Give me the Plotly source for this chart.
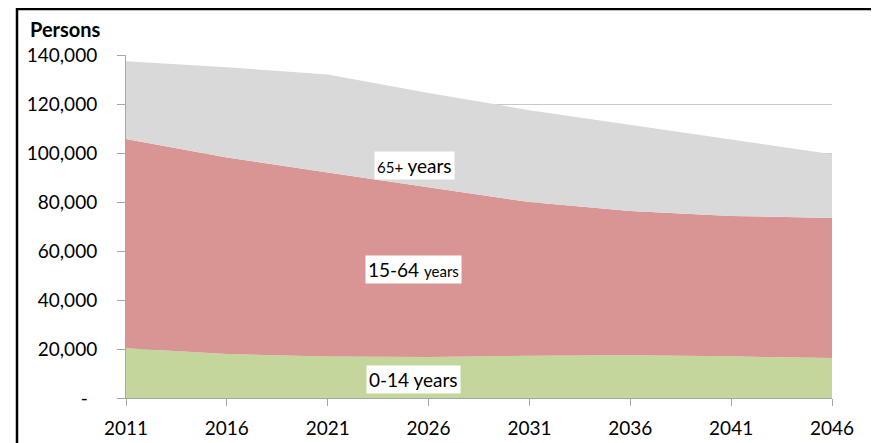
import plotly.graph_objects as go

years = [2011, 2016, 2021, 2026, 2031, 2036, 2041, 2046]
age_0_14 = [20300, 18000, 16900, 16700, 17200, 17500, 17000, 16300]
age_15_64 = [85400, 80200, 75100, 69300, 62800, 58800, 57300, 57200]
age_65_plus = [31800, 36800, 40000, 38500, 37500, 35200, 31200, 26000]

y_tickvals = [0, 20000, 40000, 60000, 80000, 100000, 120000, 140000]
y_ticktext = ["-\u2002", "20,000", "40,000", "60,000", "80,000", "100,000", "120,000", "140,000"]

FONT = "Lato"

fig = go.Figure()
fig.add_trace(go.Scatter(x=years, y=age_0_14, name="0-14 years", stackgroup="one",
                         mode="lines", line=dict(width=0), fillcolor="#c3d69b"))
fig.add_trace(go.Scatter(x=years, y=age_15_64, name="15-64 years", stackgroup="one",
                         mode="lines", line=dict(width=0), fillcolor="#d99594"))
fig.add_trace(go.Scatter(x=years, y=age_65_plus, name="65+ years", stackgroup="one",
                         mode="lines", line=dict(width=0), fillcolor="#d9d9d9"))

# page body has an 8px default margin
OFF = 8
W, H = 879 - OFF, 443 - OFF
L, R, T, B = 126 - OFF, 47, 55 - OFF, 45
pw, ph = W - L - R, H - T - B

def px_x(p):
    return (p - OFF - L) / pw

def px_y(p):
    return (H - B - (p - OFF)) / ph

fig.update_layout(
    width=W, height=H,
    margin=dict(l=L, r=R, t=T, b=B),
    paper_bgcolor="white", plot_bgcolor="white",
    showlegend=False,
    font=dict(family=FONT, size=19, color="black"),
    xaxis=dict(range=[2011, 2046], tickvals=years, ticktext=[str(y) for y in years],
               showgrid=False, zeroline=False, showline=True, linecolor="#a6a6a6",
               linewidth=1, ticks="outside", ticklen=7, tickcolor="#a6a6a6",
               ticklabelstandoff=6, automargin=False,
               tickfont=dict(family=FONT, size=19)),
    yaxis=dict(range=[0, 140000], tickvals=y_tickvals, ticktext=y_ticktext,
               showgrid=True, gridcolor="#c8c8c8", gridwidth=1, zeroline=False,
               showline=True, linecolor="#a6a6a6", linewidth=1,
               ticks="outside", ticklen=8, tickcolor="#a6a6a6",
               ticklabelstandoff=16, automargin=False,
               tickfont=dict(family=FONT, size=19)),
)

fig.add_annotation(xref="paper", yref="paper", x=px_x(28), y=px_y(29),
                   xanchor="left", yanchor="middle", showarrow=False,
                   text="<b>Persons</b>", font=dict(family=FONT, size=20))

ann_style = dict(showarrow=False, bgcolor="white", borderpad=2,
                 xanchor="center", yanchor="middle")
fig.add_annotation(x=2025.3, y=95100, xref="x", yref="y",
                   text='<span style="font-size:15px">65+</span> years',
                   font=dict(family=FONT, size=19), **ann_style)
fig.add_annotation(x=2025.25, y=52300, xref="x", yref="y",
                   text='15-64 <span style="font-size:15px">years</span>',
                   font=dict(family=FONT, size=19), **ann_style)
fig.add_annotation(x=2025.25, y=7400, xref="x", yref="y",
                   text='0-14 years',
                   font=dict(family=FONT, size=19), **ann_style)

fig.add_shape(type="rect", xref="paper", yref="paper",
              x0=px_x(17), x1=px_x(875), y0=px_y(9), y1=px_y(460),
              line=dict(color="black", width=2.5), layer="above")

fig.write_html("out.html")
